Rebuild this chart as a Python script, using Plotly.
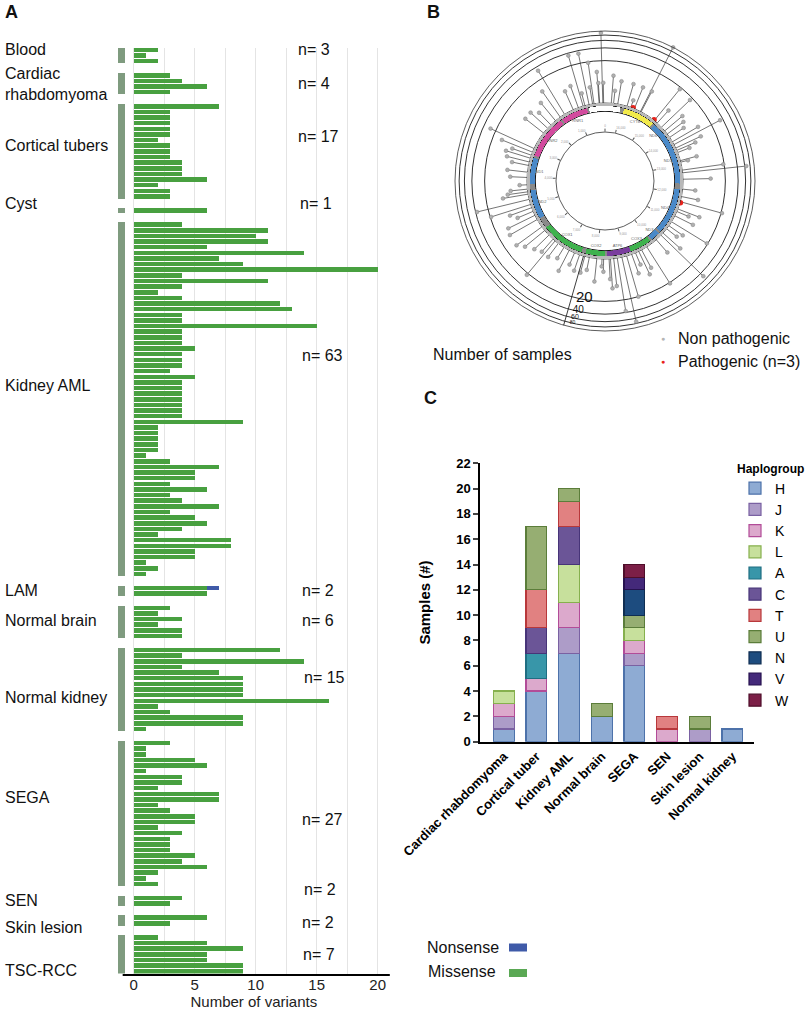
import plotly.graph_objects as go

W, H = 809, 1013
FONT = "Liberation Sans, Arial, Helvetica, sans-serif"


def px_x(x):
    return x / W


def px_y(y):
    return 1 - y / H


# ---------------- Panel A data ----------------
group_names = ["Blood", "Cardiac rhabdomyoma", "Cortical tubers", "Cyst", "Kidney AML", "LAM",
               "Normal brain", "Normal kidney", "SEGA", "SEN", "Skin lesion", "TSC-RCC"]
group_n = [3, 4, 17, 1, 63, 2, 6, 15, 27, 2, 2, 7]

blood_missense = [2, 1, 2]
cardiac_missense = [3, 4, 6, 3]
cortical_missense = [7, 3, 3, 3, 3, 3, 2, 3, 3, 3, 4, 4, 4, 6, 2, 3, 3]
cyst_missense = [6]
kidney_aml_missense = [4, 11, 10, 11, 6, 14, 7, 9, 20, 4, 11, 4, 2, 4, 12, 13, 4, 4, 15, 4, 4, 4, 5, 4,
                       4, 4, 3, 5, 4, 4, 4, 4, 4, 4, 4, 9, 2, 2, 2, 2, 2, 1, 3, 7, 5, 5, 3, 6, 3, 4,
                       7, 3, 5, 6, 4, 2, 8, 8, 5, 5, 1, 2, 1]
lam_missense = [6, 6]
lam_nonsense = [1, 0]
normal_brain_missense = [3, 2, 4, 2, 4, 4]
normal_kidney_missense = [12, 4, 14, 4, 7, 9, 9, 9, 9, 16, 2, 3, 9, 9, 1]
sega_missense = [3, 1, 1, 5, 6, 1, 4, 4, 2, 7, 7, 2, 3, 5, 5, 2, 4, 3, 3, 3, 5, 4, 6, 2, 1, 2]
sen_missense = [4, 3]
skin_missense = [6, 3]
tsc_rcc_missense = [2, 6, 9, 6, 6, 9, 9]

group_missense = [blood_missense, cardiac_missense, cortical_missense, cyst_missense,
                  kidney_aml_missense, lam_missense, normal_brain_missense,
                  normal_kidney_missense, sega_missense, sen_missense, skin_missense,
                  tsc_rcc_missense]
group_nonsense = [[0] * len(v) for v in group_missense]
group_nonsense[5] = lam_nonsense

xticks_a = [0, 5, 10, 15, 20]

# ---------------- Panel B data ----------------
MT_LEN = 16569
gene_labels = ["RNR1", "RNR2", "ND1", "ND2", "COX1", "COX2", "ATP6", "COX3", "ND3", "ND4",
               "ND5", "ND6", "CYTB"]
gene_start = [648, 1671, 3307, 4470, 5904, 7586, 8366, 9207, 10059, 10470, 12337, 14149, 14747]
gene_end = [1601, 3229, 4262, 5511, 7445, 8269, 9207, 9990, 10404, 12137, 14148, 14673, 15887]
gene_colors = ["#d24b9e", "#d24b9e", "#4a89c8", "#4a89c8", "#3fb24e", "#3fb24e", "#7a3d9e",
               "#3fb24e", "#4a89c8", "#4a89c8", "#4a89c8", "#4a89c8", "#f2ea4c"]
dloop_start, dloop_end = 16024, 576

variant_pos_bp = [750, 543, 373, 198, 180, 423, 686, 46, 73,
                  16357, 16136, 15815, 15552, 15299, 15680, 16279, 15326,
                  14766, 14434, 13817, 13577, 13490, 13412, 13122, 13071, 13708,
                  12796, 12705, 12487, 14268, 14130, 13992, 14636,
                  12151, 11897, 11719, 11460, 11368, 11207, 10977, 10817, 10687, 10500,
                  10398, 10177, 9775, 9573, 9463, 9343, 9205, 9026, 8860, 8701, 8579,
                  8469, 8423, 8238, 8183, 8008, 7751, 7594, 7410, 7226, 7028,
                  6826, 6591, 6453, 6361, 6167, 5956, 5799, 5505, 5343, 5196, 5063, 4948,
                  4769, 4589, 4510, 4418, 4271, 4023, 3843, 3613, 3493, 3360, 3254, 3143,
                  3010, 2393, 2182, 2025, 1813, 1611, 1438, 1105, 920]
variant_samples = [35, 34, 19, 11, 6, 5, 4, 6, 90,
                   9, 7, 7, 7, 7, 3, 4, 100,
                   18, 17, 10, 9, 6, 4, 5, 3, 34,
                   19, 65, 9, 7, 6, 5, 5,
                   4, 5, 21, 7, 4, 6, 19, 5, 4, 7,
                   49, 5, 21, 6, 8, 4, 6, 20, 72, 37, 9,
                   10, 6, 4, 3, 7, 4, 5, 5, 4, 7,
                   4, 5, 22, 5, 6, 8, 11, 11, 10, 5, 7, 19,
                   37, 8, 6, 5, 3, 5, 6, 5, 7, 8, 6, 12,
                   27, 7, 7, 5, 7, 11, 32, 6, 7]
pathogenic_pos_bp = [15602, 14788, 11690]

radial_ticks = [20, 40, 60, 80]
radial_ticktext = ["20", "40", "60", "80"]
radial_tick_sizes = [15, 10, 7, 5]
inner_ticks_bp = [0, 1000, 2000, 3000, 4000, 5000, 6000, 7000, 8000, 9000, 10000, 11000,
                  12000, 13000, 14000, 15000, 16000]

# ---------------- Panel C data ----------------
tissues_c = ["Cardiac rhabdomyoma", "Cortical tuber", "Kidney AML", "Normal brain", "SEGA",
             "SEN", "Skin lesion", "Normal kidney"]
haplogroups = ["H", "J", "K", "L", "A", "C", "T", "U", "N", "V", "W"]
hap_H = [1, 4, 7, 2, 6, 0, 0, 1]
hap_J = [1, 0, 2, 0, 1, 0, 1, 0]
hap_K = [1, 1, 2, 0, 1, 1, 0, 0]
hap_L = [1, 0, 3, 0, 1, 0, 0, 0]
hap_A = [0, 2, 0, 0, 0, 0, 0, 0]
hap_C = [0, 2, 3, 0, 0, 0, 0, 0]
hap_T = [0, 3, 2, 0, 0, 1, 0, 0]
hap_U = [0, 5, 1, 1, 1, 0, 1, 0]
hap_N = [0, 0, 0, 0, 2, 0, 0, 0]
hap_V = [0, 0, 0, 0, 1, 0, 0, 0]
hap_W = [0, 0, 0, 0, 1, 0, 0, 0]
hap_values = [hap_H, hap_J, hap_K, hap_L, hap_A, hap_C, hap_T, hap_U, hap_N, hap_V, hap_W]
hap_fill = ["#8eabd3", "#ad9cc8", "#dca9cc", "#c7e09c", "#3896a9", "#6b5597", "#e18181",
            "#96ae72", "#1d4c7f", "#44297a", "#7c1f47"]
hap_line = ["#4d72aa", "#7a61a2", "#b24c98", "#86b04e", "#1f6e82", "#473478", "#b8383b",
            "#5b7d3a", "#0f2e52", "#26124f", "#4f0e2a"]

yticks_c = list(range(0, 23, 2))

# ---------------- colours ----------------
GREEN = "#48a040"
BLUE = "#3f5aa8"
GROUPGRAY = "#7f9b7f"

fig = go.Figure()

# ---------------- Panel A ----------------
GAP = 1.5
row_y, row_mis, row_non = [], [], []
grp_center, grp_width = [], []
pos = 0.0
for vals, nons in zip(group_missense, group_nonsense):
    ys = [pos + i for i in range(len(vals))]
    row_y += ys
    row_mis += vals
    row_non += [v if v else None for v in nons]
    grp_center.append((ys[0] + ys[-1]) / 2)
    grp_width.append(len(vals) - 0.2)
    pos = ys[-1] + 1 + GAP
last_row = row_y[-1]
yrange_a = [last_row + 0.4, -0.4]

fig.add_trace(go.Bar(orientation="h", x=row_mis, y=row_y, width=0.8, marker=dict(color=GREEN, line=dict(width=0)),
                     xaxis="x", yaxis="y", showlegend=False, name="Missense"))
fig.add_trace(go.Bar(orientation="h", x=row_non, y=row_y, width=0.8, marker=dict(color=BLUE, line=dict(width=0)),
                     xaxis="x", yaxis="y", showlegend=False, name="Nonsense"))
fig.add_trace(go.Bar(orientation="h", x=[0.55] * len(grp_center), base=-1.26, y=grp_center, width=grp_width,
                     marker=dict(color=GROUPGRAY, line=dict(width=0)), xaxis="x", yaxis="y3",
                     showlegend=False, hoverinfo="skip"))


# ---------------- Panel B ----------------
def bp2deg(b):
    return b * 360.0 / MT_LEN


ax_theta = 164  # direction of the radial "Number of samples" axis

st_r, st_t = [], []
for b, c in zip(variant_pos_bp, variant_samples):
    st_r += [2, c, None]
    st_t += [bp2deg(b), bp2deg(b), None]
fig.add_trace(go.Scatterpolar(r=st_r, theta=st_t, mode="lines", line=dict(color="#3a3a3a", width=0.7),
                              subplot="polar", showlegend=False, hoverinfo="skip", connectgaps=False))
fig.add_trace(go.Scatterpolar(r=variant_samples, theta=[bp2deg(b) for b in variant_pos_bp], mode="markers",
                              marker=dict(size=3.8, color="#b0b0b0", line=dict(color="#808080", width=0.5)),
                              subplot="polar", showlegend=False, cliponaxis=False))
fig.add_trace(go.Scatterpolar(r=[2.05] * len(pathogenic_pos_bp), theta=[bp2deg(b) for b in pathogenic_pos_bp],
                              mode="markers", marker=dict(size=5.5, color="#e8231c"),
                              subplot="polar", showlegend=False, cliponaxis=False))
fig.add_trace(go.Scatterpolar(r=radial_ticks, theta=[ax_theta + 2] * len(radial_ticks), mode="text",
                              text=radial_ticktext, textfont=dict(size=radial_tick_sizes, color="#111", family=FONT),
                              textposition="middle right",
                              subplot="polar", showlegend=False, cliponaxis=False, hoverinfo="skip"))

# gene ring (linear polar, radius units = px)
fig.add_trace(go.Barpolar(r=[2.5], theta=[180], width=[360], base=75.5, marker=dict(color="#b8b8b8", line=dict(width=0)),
                          subplot="polar2", showlegend=False, hoverinfo="skip"))
fig.add_trace(go.Barpolar(r=[5], theta=[180], width=[360], base=70, marker=dict(color="#8a8a8a", line=dict(width=0)),
                          subplot="polar2", showlegend=False, hoverinfo="skip"))
d_end = dloop_end + MT_LEN
fig.add_trace(go.Barpolar(r=[5], theta=[bp2deg((dloop_start + d_end) / 2)], width=[bp2deg(d_end - dloop_start)],
                          base=70, marker=dict(color="white", line=dict(width=0)),
                          subplot="polar2", showlegend=False, hoverinfo="skip"))
fig.add_trace(go.Barpolar(r=[5] * len(gene_start), theta=[bp2deg((s + e) / 2) for s, e in zip(gene_start, gene_end)],
                          width=[bp2deg(e - s) for s, e in zip(gene_start, gene_end)], base=70,
                          marker=dict(color=gene_colors, line=dict(width=0)),
                          subplot="polar2", showlegend=False, hoverinfo="skip"))
fig.add_trace(go.Scatterpolar(r=[66] * len(gene_labels), theta=[bp2deg((s + e) / 2) for s, e in zip(gene_start, gene_end)],
                              mode="text", text=gene_labels, textfont=dict(size=4, color="#666", family=FONT),
                              subplot="polar2", showlegend=False, hoverinfo="skip"))
fig.add_trace(go.Scatterpolar(r=[150, 168], theta=[ax_theta, ax_theta], mode="lines",
                              line=dict(color="#222", width=0.8), subplot="polar2", showlegend=False,
                              cliponaxis=False, hoverinfo="skip"))
fig.add_trace(go.Scatterpolar(r=[0], theta=[0], mode="markers", marker=dict(opacity=0), subplot="polar3",
                              showlegend=False, hoverinfo="skip"))

# ---------------- Panel C ----------------
for name, vals, fc, lc in zip(haplogroups, hap_values, hap_fill, hap_line):
    fig.add_trace(go.Bar(x=tissues_c, y=[v if v else None for v in vals], name=name, width=0.64,
                         marker=dict(color=fc, line=dict(color=lc, width=1.2)),
                         xaxis="x2", yaxis="y2", legendgroup=name))

# ---------------- Layout ----------------
a_dom_y = [px_y(973.5), px_y(47.7)]
polar_common_ang = dict(rotation=90, direction="counterclockwise")

fig.update_layout(
    width=W, height=H, template="none", barmode="stack",
    paper_bgcolor="white", plot_bgcolor="rgba(0,0,0,0)",
    margin=dict(l=0, r=0, t=0, b=0),
    font=dict(family=FONT, color="#111"),
    xaxis=dict(domain=[px_x(117.8), px_x(389.9)], range=[-1.3, 21], anchor="y",
               tickvals=xticks_a, showgrid=True, gridcolor="#e4e4e4", gridwidth=1,
               minor=dict(dtick=2.5, showgrid=True, gridcolor="#e4e4e4", gridwidth=1),
               zeroline=False, showline=False, ticks="", tickfont=dict(size=15, color="#222"),
               title=dict(text="Number of variants", font=dict(size=15, color="#222"), standoff=1)),
    yaxis=dict(domain=a_dom_y, range=yrange_a, visible=False, anchor="x"),
    yaxis3=dict(overlaying="y", range=yrange_a, visible=False, anchor="x"),
    xaxis2=dict(domain=[px_x(480), px_x(754)], anchor="y2", type="category", range=[-0.725, 7.66],
                showline=True, linewidth=2, linecolor="black", ticks="", showgrid=False, zeroline=False,
                tickangle=-45, tickfont=dict(size=13, color="black", weight="bold")),
    yaxis2=dict(domain=[px_y(741.7), px_y(463.3)], anchor="x2", range=[0, 22], tickvals=yticks_c,
                showline=True, linewidth=1.5, linecolor="black", ticks="outside", ticklen=5, tickwidth=1.5,
                showgrid=False, zeroline=False, tickfont=dict(size=13, color="black", weight="bold"),
                title=dict(text="Samples (#)", font=dict(size=15, color="black", weight="bold"), standoff=22)),
    polar=dict(domain=dict(x=[px_x(455), px_x(755)], y=[px_y(331), px_y(31)]), hole=0.52,
               bgcolor="white",
               radialaxis=dict(type="log", range=[0.30103, 2], tickvals=[20, 40, 60, 80, 100],
                               showgrid=True, gridcolor="#333", gridwidth=0.7, showline=True, linecolor="#222",
                               linewidth=0.8, ticks="", angle=90 + ax_theta, showticklabels=False),
               angularaxis=dict(showgrid=False, showline=True, linecolor="#333", linewidth=0.8, ticks="",
                                showticklabels=False, **polar_common_ang)),
    polar2=dict(domain=dict(x=[px_x(455), px_x(755)], y=[px_y(331), px_y(31)]), bgcolor="rgba(0,0,0,0)",
                radialaxis=dict(range=[0, 150], tickvals=[69.7, 75.3], showgrid=True, gridcolor="#111",
                                gridwidth=0.7, showline=False, showticklabels=False, ticks=""),
                angularaxis=dict(visible=False, showgrid=False, **polar_common_ang)),
    polar3=dict(domain=dict(x=[px_x(556), px_x(654)], y=[px_y(230), px_y(132)]), bgcolor="rgba(0,0,0,0)",
                radialaxis=dict(visible=False, range=[0, 1]),
                angularaxis=dict(showgrid=False, showline=True, linecolor="#333", linewidth=0.8,
                                 ticks="outside", ticklen=3, tickcolor="#555",
                                 tickvals=[bp2deg(b) for b in inner_ticks_bp],
                                 ticktext=[f"{b:,}" for b in inner_ticks_bp],
                                 tickfont=dict(size=3, color="#999"), **polar_common_ang)),
    legend=dict(x=px_x(735), y=px_y(457), xanchor="left", yanchor="top", bgcolor="rgba(0,0,0,0)",
                title=dict(text="Haplogroup", font=dict(size=12, color="black", weight="bold")),
                font=dict(size=14, color="black"), tracegroupgap=2, traceorder="normal"),
)

ann = []


def add_text(text, x, y, size=14, xanchor="left", bold=False, color="#111"):
    ann.append(dict(text=text, x=px_x(x), y=px_y(y), xref="paper", yref="paper", xanchor=xanchor,
                    yanchor="middle", showarrow=False, align="left",
                    font=dict(size=size, color=color, family=FONT, weight="bold" if bold else "normal")))


add_text("A", 3, 12, 18, bold=True)
add_text("B", 425, 12, 18, bold=True)
add_text("C", 422, 398, 18, bold=True)

label_y = [49, 84.5, 145, 203.3, 385, 590.7, 620.7, 697.3, 797.3, 900.7, 927.3, 970]
label_text = ["Blood", "Cardiac<br>rhabdomyoma", "Cortical tubers", "Cyst", "Kidney AML", "LAM",
              "Normal brain", "Normal kidney", "SEGA", "SEN", "Skin lesion", "TSC-RCC"]
for t, y in zip(label_text, label_y):
    add_text(t, 3, y, 16)

n_y = [49, 83.3, 136.7, 203.3, 355, 590, 620.7, 677.7, 819.3, 889.3, 922.7, 954]
n_x = [296, 296, 296, 298, 300, 300, 300, 302, 300, 302, 300, 301]
for n, x, y in zip(group_n, n_x, n_y):
    add_text(f"n= {n}", x, y, 16)

add_text("Number of samples", 431, 354, 16)
add_text("●", 663, 338, 7, xanchor="center", color="#b5b5b5")
add_text("Non pathogenic", 676, 338, 16)
add_text("●", 663, 362, 7, xanchor="center", color="#e8231c")
add_text("Pathogenic (n=3)", 676, 362, 16)

add_text("Nonsense", 425, 947.7, 16)
add_text("Missense", 426, 971.7, 16)

shapes = [
    dict(type="line", xref="x", yref="paper", x0=-0.9, x1=21, y0=px_y(975), y1=px_y(975),
         line=dict(color="black", width=2)),
    dict(type="rect", xref="paper", yref="paper", x0=px_x(509), x1=px_x(527), y0=px_y(951.5), y1=px_y(943.5),
         fillcolor=BLUE, line=dict(width=0)),
    dict(type="rect", xref="paper", yref="paper", x0=px_x(509), x1=px_x(527), y0=px_y(977), y1=px_y(969),
         fillcolor="#5aa854", line=dict(width=0)),
]
fig.update_layout(annotations=ann, shapes=shapes)

fig.write_html("out.html", config={"displayModeBar": False},
               post_script="document.body.style.margin='0px'; document.body.style.overflow='hidden';")
